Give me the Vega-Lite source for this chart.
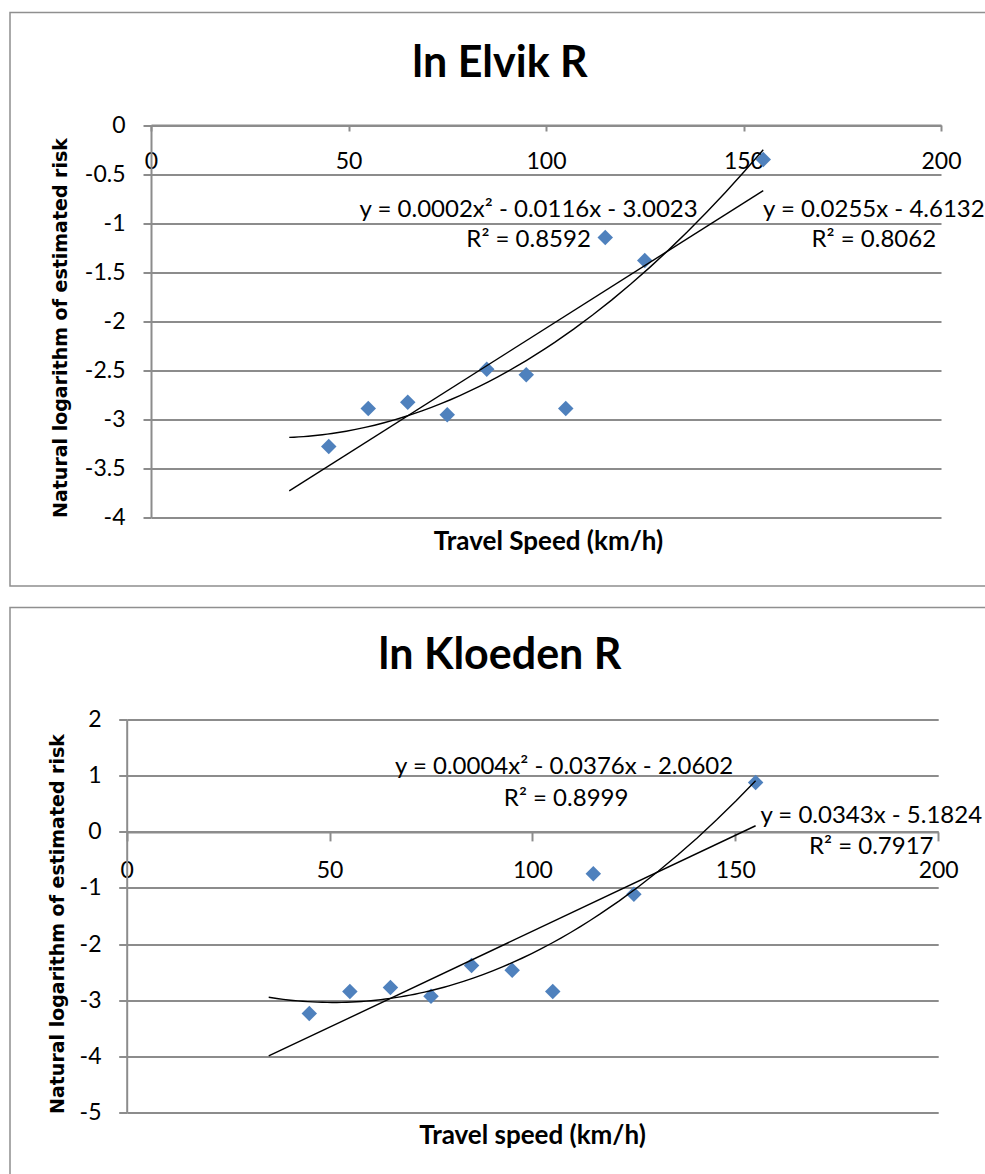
{
  "$schema": "https://vega.github.io/schema/vega-lite/v6.json",
  "padding": {"left": 9, "top": 11.5, "right": 0, "bottom": 0},
  "spacing": 19,
  "config": {
    "font": "Lato",
    "view": {"stroke": "#8f8f8f", "strokeWidth": 1.5},
    "axis": {
      "domainColor": "#8c8c8c",
      "domainWidth": 2,
      "tickColor": "#8c8c8c",
      "tickWidth": 2,
      "labelFont": "Lato",
      "labelFontSize": 23,
      "labelColor": "#000000",
      "labelOverlap": false,
      "labelFlush": false,
      "labelExpr": "replace(datum.label, '\u2212', '-')",
      "titleColor": "#000000",
      "titleAlign": "center",
      "titleBaseline": "middle"
    },
    "axisY": {
      "grid": true,
      "gridColor": "#8c8c8c",
      "gridWidth": 2,
      "tickSize": 8,
      "labelAlign": "right",
      "labelBaseline": "middle",
      "titleFont": "DejaVu Sans",
      "titleFontSize": 19,
      "titleFontWeight": "bold",
      "titleAngle": -90
    },
    "axisX": {
      "grid": false,
      "labelPadding": 19,
      "titleFont": "Lato",
      "titleFontSize": 26,
      "titleFontWeight": "bold"
    },
    "text": {"font": "Lato", "fontSize": 24, "color": "#000000", "align": "center", "baseline": "middle"}
  },
  "vconcat": [
    {
      "width": 980,
      "height": 573.5,
      "title": {"text": "ln Elvik R", "frame": "group", "anchor": "middle", "offset": -107, "baseline": "alphabetic", "font": "Lato", "fontSize": 43, "fontWeight": "bold", "color": "#000000"},
      "data": {"values": [
        {"speed": 45, "risk": -3.277},
        {"speed": 55, "risk": -2.889},
        {"speed": 65, "risk": -2.825},
        {"speed": 75, "risk": -2.953},
        {"speed": 85, "risk": -2.489},
        {"speed": 95, "risk": -2.546},
        {"speed": 105, "risk": -2.889},
        {"speed": 115, "risk": -1.147},
        {"speed": 125, "risk": -1.381},
        {"speed": 155, "risk": -0.352}
      ]},
      "layer": [
        {
          "mark": {"type": "point", "shape": "diamond", "filled": true, "size": 240, "color": "#4F81BD", "opacity": 1},
          "encoding": {
            "x": {"field": "speed", "type": "quantitative",
              "scale": {"domain": [0, 200], "range": [141, 931], "nice": false, "zero": false},
              "axis": {"title": "Travel Speed (km/h)", "orient": "bottom", "format": "d", "values": [0, 50, 100, 150, 200], "offset": -461, "tickSize": 6, "titleX": 538, "titleY": 416}},
            "y": {"field": "risk", "type": "quantitative",
              "scale": {"domain": [-4, 0], "range": [505, 112.5], "nice": false, "zero": false},
              "axis": {"title": "Natural logarithm of estimated risk", "format": "~g", "values": [-4, -3.5, -3, -2.5, -2, -1.5, -1, -0.5, 0], "offset": -141, "labelPadding": 18, "titleX": -91, "titleY": 315}}
          }
        },
        {
          "transform": [{"regression": "risk", "on": "speed", "extent": [35, 155]}],
          "mark": {"type": "line", "color": "#000000", "strokeWidth": 1.4},
          "encoding": {"x": {"field": "speed", "type": "quantitative"}, "y": {"field": "risk", "type": "quantitative"}}
        },
        {
          "transform": [{"regression": "risk", "on": "speed", "method": "poly", "order": 2, "extent": [35, 155]}],
          "mark": {"type": "line", "color": "#000000", "strokeWidth": 1.4},
          "encoding": {"x": {"field": "speed", "type": "quantitative"}, "y": {"field": "risk", "type": "quantitative"}}
        },
        {
          "data": {"values": [{}]},
          "mark": {"type": "text", "text": "y = 0.0002x² - 0.0116x - 3.0023"},
          "encoding": {"x": {"datum": 95.6}, "y": {"datum": -0.865}}
        },
        {
          "data": {"values": [{}]},
          "mark": {"type": "text", "text": "R² = 0.8592"},
          "encoding": {"x": {"datum": 95.6}, "y": {"datum": -1.171}}
        },
        {
          "data": {"values": [{}]},
          "mark": {"type": "text", "text": "y = 0.0255x - 4.6132"},
          "encoding": {"x": {"datum": 183}, "y": {"datum": -0.865}}
        },
        {
          "data": {"values": [{}]},
          "mark": {"type": "text", "text": "R² = 0.8062"},
          "encoding": {"x": {"datum": 183}, "y": {"datum": -1.171}}
        }
      ]
    },
    {
      "width": 980,
      "height": 575,
      "title": {"text": "ln Kloeden R", "frame": "group", "anchor": "middle", "offset": -104, "baseline": "alphabetic", "font": "Lato", "fontSize": 43, "fontWeight": "bold", "color": "#000000"},
      "data": {"values": [
        {"speed": 45, "risk": -3.239},
        {"speed": 55, "risk": -2.847},
        {"speed": 65, "risk": -2.775},
        {"speed": 75, "risk": -2.93},
        {"speed": 85, "risk": -2.383},
        {"speed": 95, "risk": -2.467},
        {"speed": 105, "risk": -2.847},
        {"speed": 115, "risk": -0.747},
        {"speed": 125, "risk": -1.111},
        {"speed": 155, "risk": 0.882}
      ]},
      "layer": [
        {
          "mark": {"type": "point", "shape": "diamond", "filled": true, "size": 240, "color": "#4F81BD", "opacity": 1},
          "encoding": {
            "x": {"field": "speed", "type": "quantitative",
              "scale": {"domain": [0, 200], "range": [116.7, 928.2], "nice": false, "zero": false},
              "axis": {"title": "Travel speed (km/h)", "orient": "bottom", "format": "d", "values": [0, 50, 100, 150, 200], "offset": -350.6, "tickSize": 9, "titleX": 522, "titleY": 304}},
            "y": {"field": "risk", "type": "quantitative",
              "scale": {"domain": [-5, 2], "range": [504.7, 112.3], "nice": false, "zero": false},
              "axis": {"title": "Natural logarithm of estimated risk", "format": "~g", "values": [-5, -4, -3, -2, -1, 0, 1, 2], "offset": -116.7, "labelPadding": 17.7, "titleX": -69, "titleY": 316}}
          }
        },
        {
          "transform": [{"regression": "risk", "on": "speed", "extent": [35, 155]}],
          "mark": {"type": "line", "color": "#000000", "strokeWidth": 1.4},
          "encoding": {"x": {"field": "speed", "type": "quantitative"}, "y": {"field": "risk", "type": "quantitative"}}
        },
        {
          "transform": [{"regression": "risk", "on": "speed", "method": "poly", "order": 2, "extent": [35, 155]}],
          "mark": {"type": "line", "color": "#000000", "strokeWidth": 1.4},
          "encoding": {"x": {"field": "speed", "type": "quantitative"}, "y": {"field": "risk", "type": "quantitative"}}
        },
        {
          "data": {"values": [{}]},
          "mark": {"type": "text", "text": "y = 0.0004x² - 0.0376x - 2.0602"},
          "encoding": {"x": {"datum": 107.8}, "y": {"datum": 1.154}}
        },
        {
          "data": {"values": [{}]},
          "mark": {"type": "text", "text": "R² = 0.8999"},
          "encoding": {"x": {"datum": 108.3}, "y": {"datum": 0.596}}
        },
        {
          "data": {"values": [{}]},
          "mark": {"type": "text", "text": "y = 0.0343x - 5.1824"},
          "encoding": {"x": {"datum": 183.5}, "y": {"datum": 0.28}}
        },
        {
          "data": {"values": [{}]},
          "mark": {"type": "text", "text": "R² = 0.7917"},
          "encoding": {"x": {"datum": 183.5}, "y": {"datum": -0.278}}
        }
      ]
    }
  ]
}
